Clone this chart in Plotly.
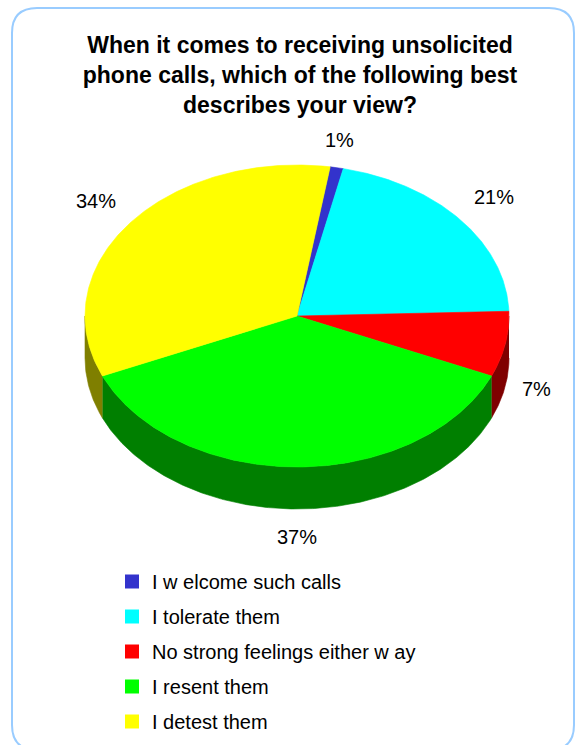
import numpy as np
import plotly.graph_objects as go

# Survey answers and their shares (percent)
categories = ["I w elcome such calls", "I tolerate them",
              "No strong feelings either w ay", "I resent them", "I detest them"]
shares = [1, 21, 7, 37, 34]
colors = ["#3333CC", "#00FFFF", "#FF0000", "#00FF00", "#FFFF00"]
title_lines = ["When it comes to receiving unsolicited",
               "phone calls, which of the following best",
               "describes your view?"]

# Geometry of the tilted pie (pixel units on hidden axes)
W, H = 575, 745
CX, CY = 297, 316          # centre of the top face
RX, RY = 212, 151          # ellipse radii of the top face
DEPTH = 42                 # thickness of the pie wall
START = 9.0                # first slice edge, degrees clockwise from top
FONT = "Liberation Sans, Arial, sans-serif"


def darker(hex_color, k=0.5):
    r, g, b = (int(hex_color[i:i + 2], 16) for i in (1, 3, 5))
    return "#%02x%02x%02x" % (int(r * k), int(g * k), int(b * k))


def ellipse_pts(t0, t1, dy=0.0):
    n = max(int(abs(t1 - t0) * 2), 2)
    t = np.radians(np.linspace(t0, t1, n))
    return CX + RX * np.sin(t), CY - RY * np.cos(t) + dy


total = float(sum(shares))
edges = START + np.concatenate([[0], np.cumsum(shares)]) / total * 360.0

fig = go.Figure()

# Front wall: only the part of each slice between 90 and 270 degrees faces us
for i, c in enumerate(colors):
    t1, t2 = edges[i], edges[i + 1]
    for shift in (0, -360):
        a0 = max(t1 + shift, 90.0)
        a1 = min(t2 + shift, 270.0)
        if a1 > a0:
            xt, yt = ellipse_pts(a0, a1)
            xb, yb = ellipse_pts(a1, a0, DEPTH)
            fig.add_trace(go.Scatter(
                x=np.concatenate([xt, xb]), y=np.concatenate([yt, yb]),
                fill="toself", mode="lines", fillcolor=darker(c),
                line=dict(color=darker(c), width=0.6),
                hoverinfo="skip", showlegend=False))

# Top face slices
for i, (name, c) in enumerate(zip(categories, colors)):
    xs, ys = ellipse_pts(edges[i], edges[i + 1])
    fig.add_trace(go.Scatter(
        x=np.concatenate([[CX], xs, [CX]]), y=np.concatenate([[CY], ys, [CY]]),
        fill="toself", mode="lines", fillcolor=c,
        line=dict(color=c, width=0.6), name=name,
        hoverinfo="name", showlegend=False))

# Legend entries with square swatches
for i, (name, c) in enumerate(zip(categories, colors)):
    fig.add_trace(go.Scatter(
        x=[None], y=[None], mode="markers", name=name,
        marker=dict(symbol="square", size=14, color=c),
        legendgroup="g%d" % i, showlegend=True))

# Percentage labels outside each slice
GAP = 15
for i, v in enumerate(shares):
    mid = np.radians((edges[i] + edges[i + 1]) / 2)
    s, co = np.sin(mid), np.cos(mid)
    x = CX + (RX + GAP) * s
    y = CY - (RY + GAP) * co + (DEPTH if co < 0 else 0)
    xa = "left" if s > 0.3 else ("right" if s < -0.3 else "center")
    ya = "bottom" if co > 0.3 else ("top" if co < -0.3 else "middle")
    fig.add_annotation(x=x, y=y, text="%d%%" % v, showarrow=False,
                       xanchor=xa, yanchor=ya,
                       font=dict(family=FONT, size=20, color="black"))

# Rounded frame around the chart
L, T, R, B, RAD = 12, 8, 574, 750, 25
frame = (f"M {L+RAD},{T} L {R-RAD},{T} Q {R},{T} {R},{T+RAD} "
         f"L {R},{B-RAD} Q {R},{B} {R-RAD},{B} L {L+RAD},{B} "
         f"Q {L},{B} {L},{B-RAD} L {L},{T+RAD} Q {L},{T} {L+RAD},{T} Z")
fig.add_shape(type="path", path=frame, xref="x", yref="y",
              line=dict(color="#99CCFF", width=2), layer="below")

fig.update_layout(
    width=W, height=H, autosize=False,
    margin=dict(l=0, r=0, t=0, b=0),
    paper_bgcolor="white", plot_bgcolor="white",
    title=dict(text="<br>".join(title_lines), x=300 / W, xanchor="center",
               y=1 - 53 / H, yanchor="top",
               font=dict(family=FONT, size=23, color="black", weight="bold")),
    xaxis=dict(range=[0, W], visible=False, fixedrange=True),
    yaxis=dict(range=[H, 0], visible=False, fixedrange=True),
    showlegend=True,
    legend=dict(x=112 / W, xanchor="left", y=1 - 562 / H, yanchor="top",
                font=dict(family=FONT, size=20, color="black"),
                tracegroupgap=6, bgcolor="rgba(0,0,0,0)"),
)

fig.write_html("out.html")
